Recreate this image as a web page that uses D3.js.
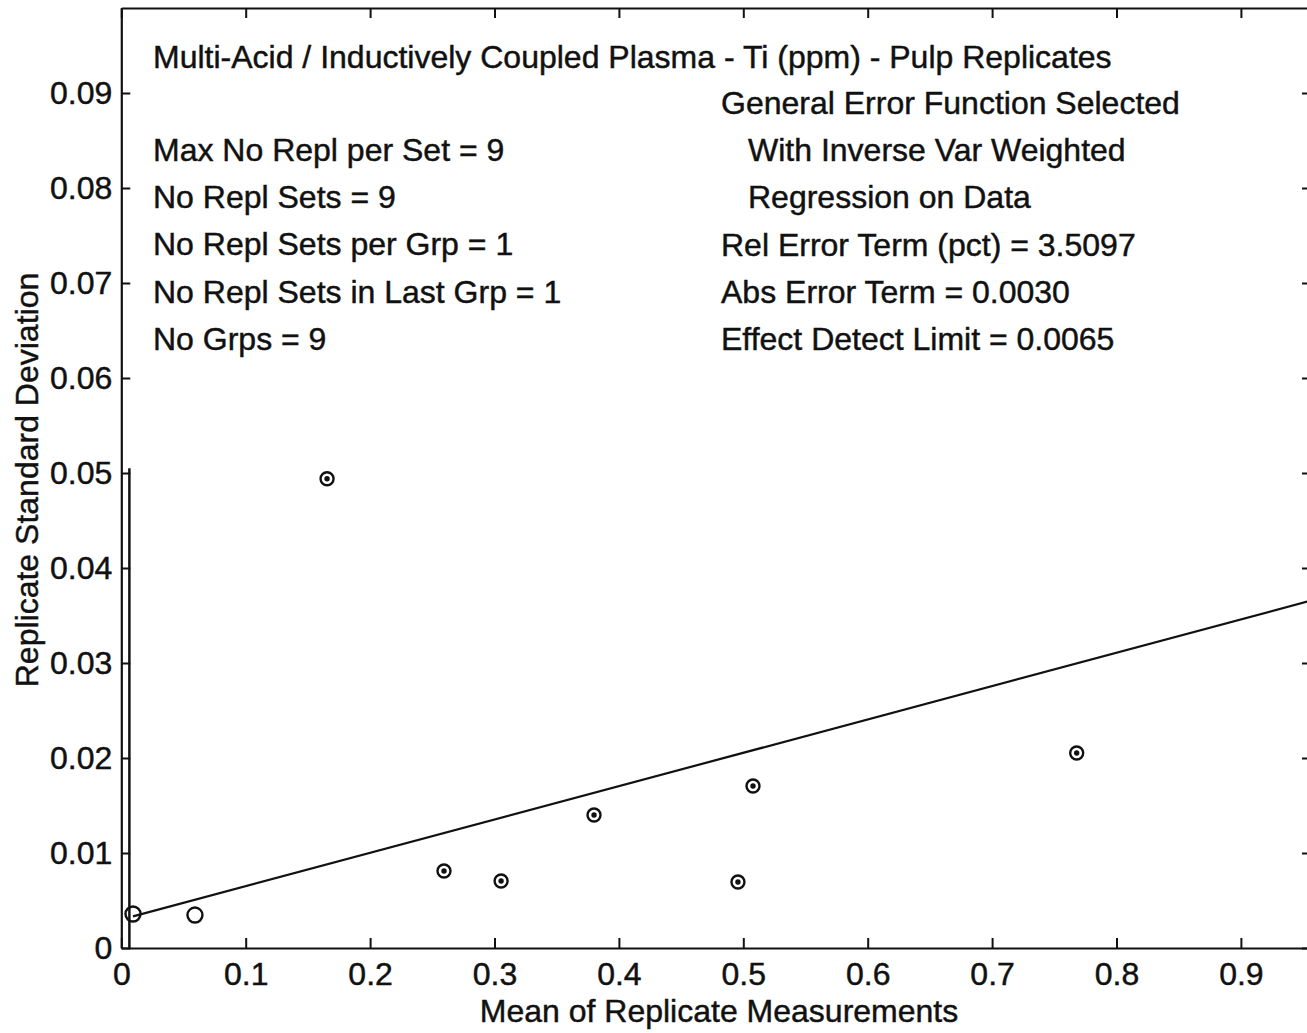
<!DOCTYPE html>
<html><head><meta charset="utf-8">
<script src="https://cdn.jsdelivr.net/npm/d3@7"></script>
<style>body{margin:0;background:#fff}svg{display:block}text{font-family:Arial,"Liberation Sans",sans-serif;fill:#111;stroke:#111;stroke-width:0.45px}</style>
</head><body><svg id="c" width="1307" height="1033"></svg>
<script>
// data
const meanX = [0.0094, 0.0592, 0.1654, 0.2594, 0.3053, 0.3800, 0.4957, 0.5078, 0.7680];
const sdY   = [0.00358, 0.00347, 0.0494, 0.0081, 0.00705, 0.0140, 0.00695, 0.01705, 0.02053];
const markerKind = ["open","open","dot","dot","dot","dot","dot","dot","dot"];
const xTicks = [0,0.1,0.2,0.3,0.4,0.5,0.6,0.7,0.8,0.9];
const yTicks = [0,0.01,0.02,0.03,0.04,0.05,0.06,0.07,0.08,0.09];
const relErr = 0.035097, absErr = 0.0030, detectLimit = 0.0065, detectTop = 0.0505;
const title = "Multi-Acid / Inductively Coupled Plasma - Ti (ppm) - Pulp Replicates";
const leftInfo = ["Max No Repl per Set = 9","No Repl Sets = 9","No Repl Sets per Grp = 1","No Repl Sets in Last Grp = 1","No Grps = 9"];
const rightInfo = ["General Error Function Selected","  With Inverse Var Weighted","  Regression on Data","Rel Error Term (pct) = 3.5097","Abs Error Term = 0.0030","Effect Detect Limit = 0.0065"];

const svg = d3.select("#c");
const L=121.3, R=1310, T=8, B=948;
const x = d3.scaleLinear().domain([0,(R-L)/1244]).range([L,R]);
const y = d3.scaleLinear().domain([0,(B-T)/9500]).range([B,T]);

const fs = 32;
// axes
const axB = svg.append("g").attr("transform",`translate(0,${B})`).call(d3.axisBottom(x).tickValues(xTicks).tickSizeInner(-10).tickSizeOuter(0).tickPadding(14).tickFormat(d=>d===0?"0":d3.format(".1f")(d)));
const axT = svg.append("g").attr("transform",`translate(0,${T})`).call(d3.axisTop(x).tickValues(xTicks).tickSizeInner(-10).tickSizeOuter(0).tickFormat(""));
const axL = svg.append("g").attr("transform",`translate(${L},0)`).call(d3.axisLeft(y).tickValues(yTicks).tickSizeInner(-9).tickSizeOuter(0).tickPadding(9).tickFormat(d=>d===0?"0":d3.format(".2f")(d)));
const axR = svg.append("g").attr("transform",`translate(${R},0)`).call(d3.axisRight(y).tickValues(yTicks).tickSizeInner(-8).tickSizeOuter(0).tickFormat(""));
[axB,axT,axL,axR].forEach(g=>{
  g.select(".domain").attr("stroke","#111").attr("stroke-width",2.2);
  g.selectAll(".tick line").attr("stroke","#111").attr("stroke-width",2);
  g.selectAll(".tick text").attr("font-size",fs).attr("fill","#111").attr("font-family","Arial, 'Liberation Sans', sans-serif");
});

// axis titles
svg.append("text").attr("x",719).attr("y",1022).attr("text-anchor","middle").attr("font-size",fs).text("Mean of Replicate Measurements");
svg.append("text").attr("transform","translate(38,480) rotate(-90)").attr("text-anchor","middle").attr("font-size",fs).text("Replicate Standard Deviation");

// detection limit line
svg.append("line").attr("x1",x(detectLimit)).attr("x2",x(detectLimit)).attr("y1",y(0)).attr("y2",y(detectTop)).attr("stroke","#111").attr("stroke-width",2.5);

// regression line
const xmin = d3.min(meanX), xmax = x.domain()[1];
svg.append("path").datum([xmin,xmax]).attr("d",d3.line().x(d=>x(d)).y(d=>y(absErr+relErr*d))).attr("fill","none").attr("stroke","#111").attr("stroke-width",2.2);

// points
const pts = meanX.map((v,i)=>({x:v,y:sdY[i],k:markerKind[i]}));
const g = svg.append("g");
g.selectAll("circle.o").data(pts).join("circle").attr("class","o")
  .attr("cx",d=>x(d.x)).attr("cy",d=>y(d.y)).attr("r",d=>d.k==="open"?7.5:6.5)
  .attr("fill","none").attr("stroke","#111").attr("stroke-width",2.4);
g.selectAll("circle.d").data(pts.filter(d=>d.k==="dot")).join("circle").attr("class","d")
  .attr("cx",d=>x(d.x)).attr("cy",d=>y(d.y)).attr("r",2.7).attr("fill","#111");

// text block
svg.append("text").attr("x",153).attr("y",68).attr("font-size",fs).text(title);
svg.selectAll("text.li").data(leftInfo).join("text").attr("class","li")
  .attr("x",153).attr("y",(d,i)=>161+i*47.2).attr("font-size",fs).text(d=>d);
svg.selectAll("text.ri").data(rightInfo).join("text").attr("class","ri")
  .attr("x",d=>d.startsWith("  ")?748:721).attr("y",(d,i)=>114+i*47.2).attr("font-size",fs).text(d=>d.trim());
</script></body></html>
